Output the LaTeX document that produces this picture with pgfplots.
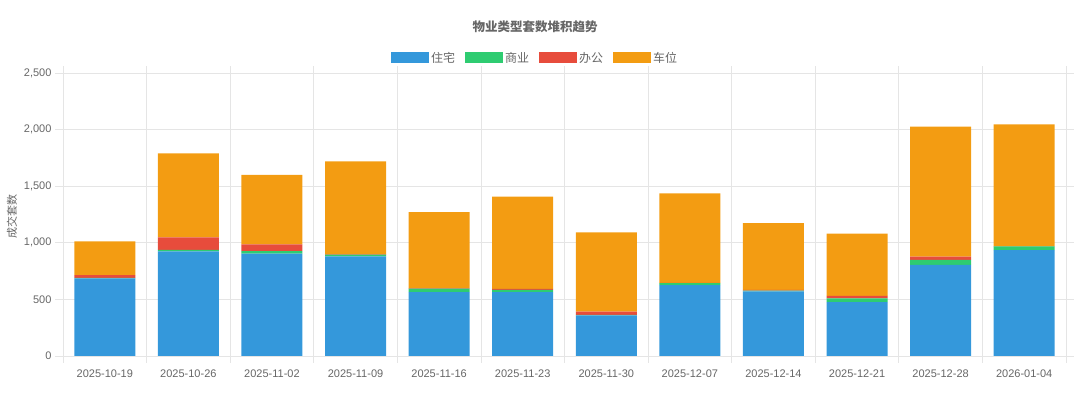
\documentclass[border=0pt]{standalone}
\usepackage{fontspec}
\setmainfont{Liberation Sans}
\newfontfamily\cjk{Noto Sans CJK SC}
\usepackage{pgfplots}
\usepackage{pgfplotstable}
\pgfplotsset{compat=1.18}
\definecolor{cres}{HTML}{3498DB}
\definecolor{ccom}{HTML}{2ECC71}
\definecolor{coff}{HTML}{E74C3C}
\definecolor{cpark}{HTML}{F39C12}
\definecolor{txt}{HTML}{666666}
\definecolor{grd}{HTML}{E5E5E5}
\pgfplotstableread{
idx res com off park
0 685 5 25 297
1 925 12 110 743
2 905 22 60 613
3 880 15 5 820
4 565 30 5 670
5 565 20 8 815
6 358 5 28 700
7 625 18 3 790
8 570 8 5 590
9 475 35 22 548
10 805 45 27 1150
11 935 33 3 1075
}\data
\pgfplotsset{myleg/.style={legend image code/.code={\fill[##1] (0pt,-5pt) rectangle (38pt,6pt);}}}
\begin{document}
\begin{tikzpicture}
\useasboundingbox (0,0) rectangle (1080pt,398pt);
\begin{axis}[at={(63pt,42pt)}, anchor=south west, scale only axis,
  width=1003pt, height=283pt,
  ybar stacked, bar width=61pt,
  xmin=-0.5, xmax=11.5, ymin=0, ymax=2500,
  xtick={0,...,11},
  xticklabels={2025-10-19,2025-10-26,2025-11-02,2025-11-09,2025-11-16,2025-11-23,2025-11-30,2025-12-07,2025-12-14,2025-12-21,2025-12-28,2026-01-04},
  minor xtick={-0.5,0.5,...,11.5},
  ytick={0,500,...,2500},
  tick align=outside,
  major tick length=8pt, minor tick length=7pt,
  major x tick style={draw=none},
  minor x tick style={draw=grd, line width=0.8pt},
  y tick style={draw=grd, line width=0.8pt},
  xmajorgrids=false, xminorgrids=true, ymajorgrids=true,
  major grid style={draw=grd, line width=0.8pt},
  minor grid style={draw=grd, line width=0.8pt},
  axis line style={draw=grd, line width=0.8pt},
  tick label style={font=\fontsize{11}{13}\selectfont, text=txt},
  /pgf/number format/assume math mode=true,
  /pgf/number format/1000 sep={,},
  scaled y ticks=false,
  xticklabel style={yshift=-2pt},
  legend style={at={(0.4706,1.053)}, anchor=center, draw=none, fill=none,
    legend columns=-1, font=\cjk\fontsize{12}{14}\selectfont, text=txt,
    /tikz/every even column/.append style={column sep=8pt}},
]
\addplot+[fill=cres, draw=none, myleg] table[x=idx,y=res]{\data};
\addplot+[fill=ccom, draw=none, myleg] table[x=idx,y=com]{\data};
\addplot+[fill=coff, draw=none, myleg] table[x=idx,y=off]{\data};
\addplot+[fill=cpark, draw=none, myleg] table[x=idx,y=park]{\data};
\legend{住宅,商业,办公,车位}
\end{axis}
\node[font=\cjk\bfseries\fontsize{12.5}{15}\selectfont, text=txt] at (535pt,371pt) {物业类型套数堆积趋势};
\node[font=\cjk\fontsize{11}{13}\selectfont, text=txt, rotate=90] at (12pt,181pt) {成交套数};
\end{tikzpicture}
\end{document}
